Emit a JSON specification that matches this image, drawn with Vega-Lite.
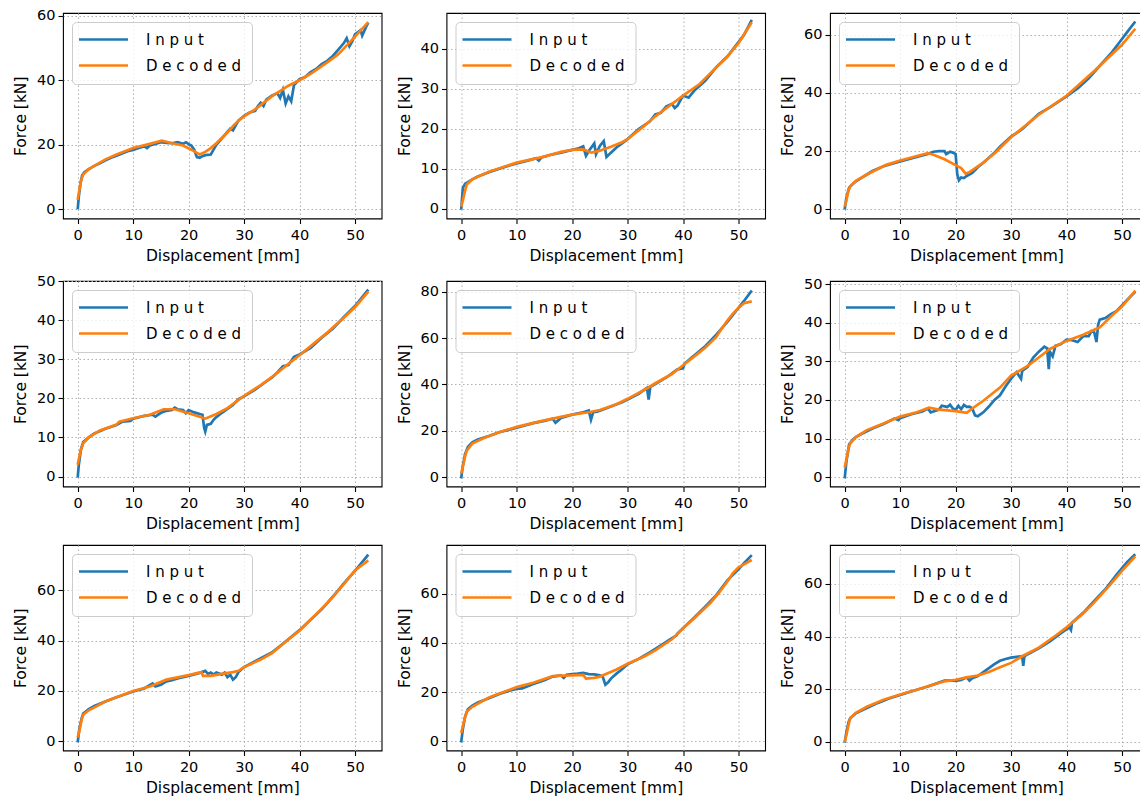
{
"$schema":"https://vega.github.io/schema/vega-lite/v6.json",
"background":"white",
"padding":{"left":12,"top":7,"right":0,"bottom":0},
"data":{"values":[
{"p":1,"s":"Input","x":0,"y":0},{"p":1,"s":"Input","x":0.2,"y":4},{"p":1,"s":"Input","x":0.5,"y":8},{"p":1,"s":"Input","x":0.8,"y":10.5},{"p":1,"s":"Input","x":1.2,"y":11.5},{"p":1,"s":"Input","x":2,"y":12.5},{"p":1,"s":"Input","x":3,"y":13.5},{"p":1,"s":"Input","x":4,"y":14.3},{"p":1,"s":"Input","x":5,"y":15.2},{"p":1,"s":"Input","x":6,"y":16},{"p":1,"s":"Input","x":7,"y":16.6},{"p":1,"s":"Input","x":8,"y":17.3},{"p":1,"s":"Input","x":9,"y":18},{"p":1,"s":"Input","x":10,"y":18.4},{"p":1,"s":"Input","x":11,"y":19},{"p":1,"s":"Input","x":12,"y":19.5},{"p":1,"s":"Input","x":12.5,"y":19},{"p":1,"s":"Input","x":13,"y":19.8},{"p":1,"s":"Input","x":14,"y":20.3},{"p":1,"s":"Input","x":15,"y":20.8},{"p":1,"s":"Input","x":16,"y":20.6},{"p":1,"s":"Input","x":17,"y":20.5},{"p":1,"s":"Input","x":18,"y":20.8},{"p":1,"s":"Input","x":19,"y":20.3},{"p":1,"s":"Input","x":19.5,"y":20.8},{"p":1,"s":"Input","x":20,"y":20.2},{"p":1,"s":"Input","x":20.5,"y":19.8},{"p":1,"s":"Input","x":21,"y":18.5},{"p":1,"s":"Input","x":21.5,"y":16.2},{"p":1,"s":"Input","x":22,"y":16},{"p":1,"s":"Input","x":22.5,"y":16.5},{"p":1,"s":"Input","x":23,"y":16.8},{"p":1,"s":"Input","x":24,"y":17},{"p":1,"s":"Input","x":24.5,"y":18.5},{"p":1,"s":"Input","x":25,"y":20},{"p":1,"s":"Input","x":26,"y":22},{"p":1,"s":"Input","x":27,"y":24},{"p":1,"s":"Input","x":27.5,"y":25},{"p":1,"s":"Input","x":28,"y":24.5},{"p":1,"s":"Input","x":28.5,"y":26},{"p":1,"s":"Input","x":29,"y":27.5},{"p":1,"s":"Input","x":30,"y":29},{"p":1,"s":"Input","x":31,"y":30},{"p":1,"s":"Input","x":32,"y":30.5},{"p":1,"s":"Input","x":32.5,"y":32},{"p":1,"s":"Input","x":33,"y":33},{"p":1,"s":"Input","x":33.5,"y":32},{"p":1,"s":"Input","x":34,"y":34},{"p":1,"s":"Input","x":35,"y":35.2},{"p":1,"s":"Input","x":36,"y":36},{"p":1,"s":"Input","x":36.5,"y":34.5},{"p":1,"s":"Input","x":37,"y":37},{"p":1,"s":"Input","x":37.5,"y":32.8},{"p":1,"s":"Input","x":38,"y":35},{"p":1,"s":"Input","x":38.5,"y":33.5},{"p":1,"s":"Input","x":39,"y":38.5},{"p":1,"s":"Input","x":40,"y":40.3},{"p":1,"s":"Input","x":41,"y":41},{"p":1,"s":"Input","x":42,"y":42.5},{"p":1,"s":"Input","x":43,"y":43.5},{"p":1,"s":"Input","x":44,"y":45},{"p":1,"s":"Input","x":45,"y":46},{"p":1,"s":"Input","x":46,"y":47.5},{"p":1,"s":"Input","x":47,"y":49.5},{"p":1,"s":"Input","x":48,"y":51.5},{"p":1,"s":"Input","x":48.5,"y":53},{"p":1,"s":"Input","x":49,"y":50.5},{"p":1,"s":"Input","x":49.5,"y":52},{"p":1,"s":"Input","x":50,"y":54.2},{"p":1,"s":"Input","x":51,"y":55.5},{"p":1,"s":"Input","x":51.3,"y":53.8},{"p":1,"s":"Input","x":52,"y":56.5},{"p":1,"s":"Input","x":52.4,"y":57.8},
{"p":1,"s":"Decoded","x":0,"y":3},{"p":1,"s":"Decoded","x":0.3,"y":6},{"p":1,"s":"Decoded","x":0.6,"y":9},{"p":1,"s":"Decoded","x":1,"y":10.8},{"p":1,"s":"Decoded","x":2,"y":12.5},{"p":1,"s":"Decoded","x":3,"y":13.5},{"p":1,"s":"Decoded","x":5,"y":15.5},{"p":1,"s":"Decoded","x":7,"y":17},{"p":1,"s":"Decoded","x":10,"y":19},{"p":1,"s":"Decoded","x":13,"y":20.3},{"p":1,"s":"Decoded","x":15.2,"y":21.3},{"p":1,"s":"Decoded","x":17,"y":20.5},{"p":1,"s":"Decoded","x":19,"y":19.8},{"p":1,"s":"Decoded","x":20.5,"y":18.5},{"p":1,"s":"Decoded","x":21.5,"y":17.5},{"p":1,"s":"Decoded","x":22,"y":17},{"p":1,"s":"Decoded","x":23,"y":17.8},{"p":1,"s":"Decoded","x":24,"y":19},{"p":1,"s":"Decoded","x":25,"y":20.5},{"p":1,"s":"Decoded","x":27,"y":23.8},{"p":1,"s":"Decoded","x":28,"y":25.8},{"p":1,"s":"Decoded","x":29,"y":27.5},{"p":1,"s":"Decoded","x":30,"y":28.8},{"p":1,"s":"Decoded","x":32,"y":31},{"p":1,"s":"Decoded","x":35,"y":35},{"p":1,"s":"Decoded","x":38,"y":38.3},{"p":1,"s":"Decoded","x":40,"y":40},{"p":1,"s":"Decoded","x":42,"y":42},{"p":1,"s":"Decoded","x":45,"y":45.5},{"p":1,"s":"Decoded","x":47,"y":48},{"p":1,"s":"Decoded","x":50,"y":53.5},{"p":1,"s":"Decoded","x":52.4,"y":58},
{"p":2,"s":"Input","x":0,"y":-0.3},{"p":2,"s":"Input","x":0.3,"y":5.2},{"p":2,"s":"Input","x":0.7,"y":6.2},{"p":2,"s":"Input","x":1.2,"y":6.6},{"p":2,"s":"Input","x":2,"y":7.3},{"p":2,"s":"Input","x":3,"y":8},{"p":2,"s":"Input","x":5,"y":9.1},{"p":2,"s":"Input","x":8,"y":10.5},{"p":2,"s":"Input","x":10,"y":11.3},{"p":2,"s":"Input","x":12,"y":12},{"p":2,"s":"Input","x":13.5,"y":12.6},{"p":2,"s":"Input","x":14,"y":12},{"p":2,"s":"Input","x":14.5,"y":12.8},{"p":2,"s":"Input","x":16,"y":13.4},{"p":2,"s":"Input","x":18,"y":14},{"p":2,"s":"Input","x":20,"y":14.7},{"p":2,"s":"Input","x":21,"y":15},{"p":2,"s":"Input","x":22,"y":15.6},{"p":2,"s":"Input","x":22.5,"y":13.2},{"p":2,"s":"Input","x":23,"y":14.4},{"p":2,"s":"Input","x":24,"y":16.3},{"p":2,"s":"Input","x":24.3,"y":13.6},{"p":2,"s":"Input","x":25,"y":15.7},{"p":2,"s":"Input","x":25.7,"y":16.9},{"p":2,"s":"Input","x":26.2,"y":12.9},{"p":2,"s":"Input","x":27,"y":14},{"p":2,"s":"Input","x":28,"y":15.3},{"p":2,"s":"Input","x":29,"y":16.3},{"p":2,"s":"Input","x":30,"y":17.4},{"p":2,"s":"Input","x":32,"y":19.9},{"p":2,"s":"Input","x":34,"y":21.8},{"p":2,"s":"Input","x":35,"y":23.6},{"p":2,"s":"Input","x":36,"y":24},{"p":2,"s":"Input","x":37,"y":25.6},{"p":2,"s":"Input","x":38,"y":26.2},{"p":2,"s":"Input","x":38.5,"y":25.2},{"p":2,"s":"Input","x":39,"y":25.8},{"p":2,"s":"Input","x":40,"y":28.3},{"p":2,"s":"Input","x":41,"y":27.8},{"p":2,"s":"Input","x":42,"y":29.5},{"p":2,"s":"Input","x":44,"y":32},{"p":2,"s":"Input","x":46,"y":35.4},{"p":2,"s":"Input","x":48,"y":38.1},{"p":2,"s":"Input","x":50,"y":41.7},{"p":2,"s":"Input","x":51,"y":43.5},{"p":2,"s":"Input","x":52.4,"y":47.3},
{"p":2,"s":"Decoded","x":0,"y":0.5},{"p":2,"s":"Decoded","x":0.3,"y":2},{"p":2,"s":"Decoded","x":0.7,"y":4.5},{"p":2,"s":"Decoded","x":1,"y":6},{"p":2,"s":"Decoded","x":2,"y":7.3},{"p":2,"s":"Decoded","x":5,"y":9.2},{"p":2,"s":"Decoded","x":10,"y":11.5},{"p":2,"s":"Decoded","x":15,"y":13},{"p":2,"s":"Decoded","x":18,"y":14.2},{"p":2,"s":"Decoded","x":20,"y":14.7},{"p":2,"s":"Decoded","x":22,"y":14.8},{"p":2,"s":"Decoded","x":23.5,"y":14},{"p":2,"s":"Decoded","x":25,"y":14.5},{"p":2,"s":"Decoded","x":27,"y":15.5},{"p":2,"s":"Decoded","x":29,"y":16.6},{"p":2,"s":"Decoded","x":30,"y":17.4},{"p":2,"s":"Decoded","x":33,"y":20.7},{"p":2,"s":"Decoded","x":35,"y":23.1},{"p":2,"s":"Decoded","x":38,"y":26.2},{"p":2,"s":"Decoded","x":40,"y":28.3},{"p":2,"s":"Decoded","x":43,"y":31.2},{"p":2,"s":"Decoded","x":45,"y":34},{"p":2,"s":"Decoded","x":48,"y":38.1},{"p":2,"s":"Decoded","x":50,"y":41.4},{"p":2,"s":"Decoded","x":52.4,"y":46.7},
{"p":3,"s":"Input","x":0,"y":0},{"p":3,"s":"Input","x":0.3,"y":4},{"p":3,"s":"Input","x":0.8,"y":7.5},{"p":3,"s":"Input","x":1.5,"y":8.8},{"p":3,"s":"Input","x":2,"y":9.6},{"p":3,"s":"Input","x":4,"y":12},{"p":3,"s":"Input","x":5,"y":13.2},{"p":3,"s":"Input","x":7,"y":14.8},{"p":3,"s":"Input","x":10,"y":16.5},{"p":3,"s":"Input","x":12,"y":17.5},{"p":3,"s":"Input","x":15,"y":19},{"p":3,"s":"Input","x":16,"y":19.8},{"p":3,"s":"Input","x":17,"y":20},{"p":3,"s":"Input","x":18,"y":20},{"p":3,"s":"Input","x":18.3,"y":19},{"p":3,"s":"Input","x":19,"y":19.8},{"p":3,"s":"Input","x":19.5,"y":19.5},{"p":3,"s":"Input","x":20,"y":19},{"p":3,"s":"Input","x":20.3,"y":12},{"p":3,"s":"Input","x":20.6,"y":10},{"p":3,"s":"Input","x":21,"y":11},{"p":3,"s":"Input","x":21.5,"y":10.8},{"p":3,"s":"Input","x":22,"y":11.5},{"p":3,"s":"Input","x":23,"y":12.5},{"p":3,"s":"Input","x":24,"y":14.5},{"p":3,"s":"Input","x":25,"y":16},{"p":3,"s":"Input","x":27,"y":19.5},{"p":3,"s":"Input","x":28,"y":21.5},{"p":3,"s":"Input","x":30,"y":25},{"p":3,"s":"Input","x":32,"y":27.5},{"p":3,"s":"Input","x":35,"y":32.8},{"p":3,"s":"Input","x":37,"y":35},{"p":3,"s":"Input","x":40,"y":38.8},{"p":3,"s":"Input","x":42,"y":41.5},{"p":3,"s":"Input","x":44,"y":45},{"p":3,"s":"Input","x":46,"y":49.3},{"p":3,"s":"Input","x":48,"y":53.5},{"p":3,"s":"Input","x":50,"y":58.5},{"p":3,"s":"Input","x":51,"y":61},{"p":3,"s":"Input","x":52.4,"y":64.5},
{"p":3,"s":"Decoded","x":0,"y":1},{"p":3,"s":"Decoded","x":0.3,"y":3},{"p":3,"s":"Decoded","x":0.6,"y":6},{"p":3,"s":"Decoded","x":1,"y":8},{"p":3,"s":"Decoded","x":2,"y":9.8},{"p":3,"s":"Decoded","x":4,"y":12},{"p":3,"s":"Decoded","x":7.5,"y":15.3},{"p":3,"s":"Decoded","x":10,"y":16.8},{"p":3,"s":"Decoded","x":15,"y":19.3},{"p":3,"s":"Decoded","x":16,"y":18.8},{"p":3,"s":"Decoded","x":18,"y":17.2},{"p":3,"s":"Decoded","x":20,"y":15.2},{"p":3,"s":"Decoded","x":21,"y":14.2},{"p":3,"s":"Decoded","x":21.8,"y":12.3},{"p":3,"s":"Decoded","x":22.5,"y":12.8},{"p":3,"s":"Decoded","x":24,"y":14.8},{"p":3,"s":"Decoded","x":25,"y":16.1},{"p":3,"s":"Decoded","x":27,"y":19.2},{"p":3,"s":"Decoded","x":30,"y":24.8},{"p":3,"s":"Decoded","x":35,"y":32.5},{"p":3,"s":"Decoded","x":40,"y":39},{"p":3,"s":"Decoded","x":45,"y":47.5},{"p":3,"s":"Decoded","x":50,"y":56.5},{"p":3,"s":"Decoded","x":52.4,"y":62},
{"p":4,"s":"Input","x":0,"y":-0.3},{"p":4,"s":"Input","x":0.2,"y":3},{"p":4,"s":"Input","x":0.6,"y":7},{"p":4,"s":"Input","x":1,"y":8.8},{"p":4,"s":"Input","x":2,"y":10},{"p":4,"s":"Input","x":3,"y":11},{"p":4,"s":"Input","x":5,"y":12.2},{"p":4,"s":"Input","x":7,"y":13.2},{"p":4,"s":"Input","x":8,"y":14},{"p":4,"s":"Input","x":9.5,"y":14.2},{"p":4,"s":"Input","x":10,"y":14.8},{"p":4,"s":"Input","x":12,"y":15.5},{"p":4,"s":"Input","x":13.5,"y":15.8},{"p":4,"s":"Input","x":14,"y":15.3},{"p":4,"s":"Input","x":15,"y":16.3},{"p":4,"s":"Input","x":16,"y":16.8},{"p":4,"s":"Input","x":17,"y":17},{"p":4,"s":"Input","x":17.5,"y":17.6},{"p":4,"s":"Input","x":18,"y":17.2},{"p":4,"s":"Input","x":19,"y":17},{"p":4,"s":"Input","x":19.5,"y":16.2},{"p":4,"s":"Input","x":20,"y":17},{"p":4,"s":"Input","x":21,"y":16.4},{"p":4,"s":"Input","x":22,"y":16},{"p":4,"s":"Input","x":22.5,"y":15.8},{"p":4,"s":"Input","x":22.8,"y":12.5},{"p":4,"s":"Input","x":23,"y":11.5},{"p":4,"s":"Input","x":23.3,"y":13.2},{"p":4,"s":"Input","x":24,"y":13.5},{"p":4,"s":"Input","x":24.5,"y":14.5},{"p":4,"s":"Input","x":25,"y":15.2},{"p":4,"s":"Input","x":26,"y":16.3},{"p":4,"s":"Input","x":27,"y":17.3},{"p":4,"s":"Input","x":28,"y":18.3},{"p":4,"s":"Input","x":29,"y":19.8},{"p":4,"s":"Input","x":30,"y":20.5},{"p":4,"s":"Input","x":32,"y":22.2},{"p":4,"s":"Input","x":34,"y":24.3},{"p":4,"s":"Input","x":35,"y":25.3},{"p":4,"s":"Input","x":36,"y":26.6},{"p":4,"s":"Input","x":37,"y":28.2},{"p":4,"s":"Input","x":38,"y":28.5},{"p":4,"s":"Input","x":39,"y":30.6},{"p":4,"s":"Input","x":40,"y":31.2},{"p":4,"s":"Input","x":42,"y":32.9},{"p":4,"s":"Input","x":44,"y":35.5},{"p":4,"s":"Input","x":46,"y":37.8},{"p":4,"s":"Input","x":48,"y":40.8},{"p":4,"s":"Input","x":50,"y":43.6},{"p":4,"s":"Input","x":52.4,"y":47.8},
{"p":4,"s":"Decoded","x":0,"y":3},{"p":4,"s":"Decoded","x":0.5,"y":6.5},{"p":4,"s":"Decoded","x":1,"y":8.5},{"p":4,"s":"Decoded","x":2,"y":10},{"p":4,"s":"Decoded","x":4,"y":11.8},{"p":4,"s":"Decoded","x":7,"y":13.3},{"p":4,"s":"Decoded","x":7.5,"y":14},{"p":4,"s":"Decoded","x":10,"y":14.9},{"p":4,"s":"Decoded","x":13,"y":15.8},{"p":4,"s":"Decoded","x":15.5,"y":17.2},{"p":4,"s":"Decoded","x":17.5,"y":17.2},{"p":4,"s":"Decoded","x":20,"y":16.2},{"p":4,"s":"Decoded","x":22,"y":15.3},{"p":4,"s":"Decoded","x":23,"y":14.8},{"p":4,"s":"Decoded","x":25,"y":16},{"p":4,"s":"Decoded","x":27,"y":17.5},{"p":4,"s":"Decoded","x":30,"y":20.6},{"p":4,"s":"Decoded","x":33,"y":23.4},{"p":4,"s":"Decoded","x":35,"y":25.4},{"p":4,"s":"Decoded","x":38,"y":28.8},{"p":4,"s":"Decoded","x":40,"y":31},{"p":4,"s":"Decoded","x":43,"y":34.5},{"p":4,"s":"Decoded","x":45,"y":36.8},{"p":4,"s":"Decoded","x":48,"y":40.6},{"p":4,"s":"Decoded","x":50,"y":43.3},{"p":4,"s":"Decoded","x":52.4,"y":47.3},
{"p":5,"s":"Input","x":0,"y":-0.5},{"p":5,"s":"Input","x":0.3,"y":5},{"p":5,"s":"Input","x":0.7,"y":10},{"p":5,"s":"Input","x":1.2,"y":13},{"p":5,"s":"Input","x":2,"y":15},{"p":5,"s":"Input","x":3,"y":16.3},{"p":5,"s":"Input","x":5,"y":17.8},{"p":5,"s":"Input","x":7,"y":19.5},{"p":5,"s":"Input","x":10,"y":21.3},{"p":5,"s":"Input","x":13,"y":23.3},{"p":5,"s":"Input","x":15,"y":24.3},{"p":5,"s":"Input","x":16.5,"y":25.2},{"p":5,"s":"Input","x":17,"y":23.5},{"p":5,"s":"Input","x":17.5,"y":24.5},{"p":5,"s":"Input","x":18,"y":25.5},{"p":5,"s":"Input","x":20,"y":27},{"p":5,"s":"Input","x":22,"y":28},{"p":5,"s":"Input","x":23,"y":28.8},{"p":5,"s":"Input","x":23.4,"y":24.8},{"p":5,"s":"Input","x":23.8,"y":28},{"p":5,"s":"Input","x":24.5,"y":28.3},{"p":5,"s":"Input","x":25,"y":28.7},{"p":5,"s":"Input","x":27,"y":30.5},{"p":5,"s":"Input","x":29,"y":32.3},{"p":5,"s":"Input","x":30,"y":33.5},{"p":5,"s":"Input","x":32,"y":36},{"p":5,"s":"Input","x":33.5,"y":38.5},{"p":5,"s":"Input","x":33.8,"y":33.5},{"p":5,"s":"Input","x":34.1,"y":39},{"p":5,"s":"Input","x":35,"y":40.2},{"p":5,"s":"Input","x":37,"y":43},{"p":5,"s":"Input","x":39,"y":46.5},{"p":5,"s":"Input","x":40,"y":47},{"p":5,"s":"Input","x":40.3,"y":49},{"p":5,"s":"Input","x":42,"y":52.5},{"p":5,"s":"Input","x":44,"y":56.5},{"p":5,"s":"Input","x":46,"y":61.5},{"p":5,"s":"Input","x":48,"y":67},{"p":5,"s":"Input","x":50,"y":73},{"p":5,"s":"Input","x":51,"y":76},{"p":5,"s":"Input","x":52.4,"y":80.5},
{"p":5,"s":"Decoded","x":0,"y":1.5},{"p":5,"s":"Decoded","x":0.3,"y":4.5},{"p":5,"s":"Decoded","x":0.7,"y":9},{"p":5,"s":"Decoded","x":1,"y":11.5},{"p":5,"s":"Decoded","x":2,"y":14.5},{"p":5,"s":"Decoded","x":4,"y":16.8},{"p":5,"s":"Decoded","x":7,"y":19.5},{"p":5,"s":"Decoded","x":10,"y":21.7},{"p":5,"s":"Decoded","x":15,"y":24.5},{"p":5,"s":"Decoded","x":18,"y":26},{"p":5,"s":"Decoded","x":20,"y":27},{"p":5,"s":"Decoded","x":23,"y":28},{"p":5,"s":"Decoded","x":25,"y":29},{"p":5,"s":"Decoded","x":28,"y":31.5},{"p":5,"s":"Decoded","x":30,"y":33.8},{"p":5,"s":"Decoded","x":33,"y":37.6},{"p":5,"s":"Decoded","x":35,"y":40.5},{"p":5,"s":"Decoded","x":38,"y":44.5},{"p":5,"s":"Decoded","x":40,"y":48.3},{"p":5,"s":"Decoded","x":42,"y":52},{"p":5,"s":"Decoded","x":44,"y":55.8},{"p":5,"s":"Decoded","x":46,"y":60.5},{"p":5,"s":"Decoded","x":46.8,"y":63.5},{"p":5,"s":"Decoded","x":48,"y":67.5},{"p":5,"s":"Decoded","x":49,"y":70.5},{"p":5,"s":"Decoded","x":50,"y":73},{"p":5,"s":"Decoded","x":51,"y":75},{"p":5,"s":"Decoded","x":52.4,"y":75.8},
{"p":6,"s":"Input","x":0,"y":-0.3},{"p":6,"s":"Input","x":0.3,"y":4},{"p":6,"s":"Input","x":0.8,"y":8.5},{"p":6,"s":"Input","x":1.5,"y":9.8},{"p":6,"s":"Input","x":2,"y":10.4},{"p":6,"s":"Input","x":3,"y":11.2},{"p":6,"s":"Input","x":5,"y":12.6},{"p":6,"s":"Input","x":7,"y":13.8},{"p":6,"s":"Input","x":9,"y":15.2},{"p":6,"s":"Input","x":9.7,"y":14.8},{"p":6,"s":"Input","x":10,"y":15.3},{"p":6,"s":"Input","x":12,"y":16.3},{"p":6,"s":"Input","x":14,"y":17},{"p":6,"s":"Input","x":15,"y":17.8},{"p":6,"s":"Input","x":15.5,"y":16.8},{"p":6,"s":"Input","x":16,"y":17},{"p":6,"s":"Input","x":17,"y":17.5},{"p":6,"s":"Input","x":17.5,"y":18.5},{"p":6,"s":"Input","x":18.5,"y":18.2},{"p":6,"s":"Input","x":19,"y":18.8},{"p":6,"s":"Input","x":19.5,"y":17.8},{"p":6,"s":"Input","x":20,"y":17.4},{"p":6,"s":"Input","x":20.5,"y":18.5},{"p":6,"s":"Input","x":21,"y":17.6},{"p":6,"s":"Input","x":21.5,"y":18.7},{"p":6,"s":"Input","x":22,"y":18.2},{"p":6,"s":"Input","x":22.5,"y":18.3},{"p":6,"s":"Input","x":23,"y":17.8},{"p":6,"s":"Input","x":23.5,"y":16},{"p":6,"s":"Input","x":24,"y":15.8},{"p":6,"s":"Input","x":25,"y":16.8},{"p":6,"s":"Input","x":26,"y":18.3},{"p":6,"s":"Input","x":27,"y":20},{"p":6,"s":"Input","x":28,"y":21.2},{"p":6,"s":"Input","x":29,"y":23.5},{"p":6,"s":"Input","x":30,"y":25.5},{"p":6,"s":"Input","x":31,"y":27.2},{"p":6,"s":"Input","x":31.8,"y":25.5},{"p":6,"s":"Input","x":32,"y":27.5},{"p":6,"s":"Input","x":33,"y":28.6},{"p":6,"s":"Input","x":34,"y":31},{"p":6,"s":"Input","x":35,"y":32.5},{"p":6,"s":"Input","x":36,"y":33.8},{"p":6,"s":"Input","x":36.5,"y":33.4},{"p":6,"s":"Input","x":36.8,"y":28},{"p":6,"s":"Input","x":37,"y":32.5},{"p":6,"s":"Input","x":37.5,"y":31.3},{"p":6,"s":"Input","x":38,"y":34},{"p":6,"s":"Input","x":39,"y":34.5},{"p":6,"s":"Input","x":40,"y":35.6},{"p":6,"s":"Input","x":41,"y":35.5},{"p":6,"s":"Input","x":42,"y":35},{"p":6,"s":"Input","x":43,"y":36.5},{"p":6,"s":"Input","x":44,"y":36.5},{"p":6,"s":"Input","x":44.5,"y":37.8},{"p":6,"s":"Input","x":45,"y":37.5},{"p":6,"s":"Input","x":45.4,"y":35},{"p":6,"s":"Input","x":45.7,"y":39.5},{"p":6,"s":"Input","x":46,"y":40.8},{"p":6,"s":"Input","x":47,"y":41.2},{"p":6,"s":"Input","x":48,"y":42.2},{"p":6,"s":"Input","x":49,"y":43},{"p":6,"s":"Input","x":50,"y":44.5},{"p":6,"s":"Input","x":51,"y":46},{"p":6,"s":"Input","x":52.4,"y":48},
{"p":6,"s":"Decoded","x":0,"y":2.5},{"p":6,"s":"Decoded","x":0.3,"y":4.5},{"p":6,"s":"Decoded","x":0.7,"y":7.5},{"p":6,"s":"Decoded","x":1,"y":8.8},{"p":6,"s":"Decoded","x":2,"y":10.4},{"p":6,"s":"Decoded","x":4,"y":12.2},{"p":6,"s":"Decoded","x":7,"y":13.9},{"p":6,"s":"Decoded","x":10,"y":15.7},{"p":6,"s":"Decoded","x":13,"y":16.8},{"p":6,"s":"Decoded","x":15.2,"y":18},{"p":6,"s":"Decoded","x":17,"y":17.5},{"p":6,"s":"Decoded","x":20,"y":17.1},{"p":6,"s":"Decoded","x":22,"y":16.7},{"p":6,"s":"Decoded","x":23,"y":17.8},{"p":6,"s":"Decoded","x":25,"y":19.8},{"p":6,"s":"Decoded","x":28,"y":23.2},{"p":6,"s":"Decoded","x":30,"y":26.3},{"p":6,"s":"Decoded","x":33,"y":28.8},{"p":6,"s":"Decoded","x":35,"y":31},{"p":6,"s":"Decoded","x":37,"y":33.2},{"p":6,"s":"Decoded","x":40,"y":35.3},{"p":6,"s":"Decoded","x":43,"y":36.9},{"p":6,"s":"Decoded","x":46,"y":38.8},{"p":6,"s":"Decoded","x":48,"y":41.6},{"p":6,"s":"Decoded","x":50,"y":44.2},{"p":6,"s":"Decoded","x":52.4,"y":48.3},
{"p":7,"s":"Input","x":0,"y":-0.5},{"p":7,"s":"Input","x":0.3,"y":5},{"p":7,"s":"Input","x":0.7,"y":9},{"p":7,"s":"Input","x":1,"y":11},{"p":7,"s":"Input","x":2,"y":12.8},{"p":7,"s":"Input","x":3,"y":14},{"p":7,"s":"Input","x":5,"y":15.8},{"p":7,"s":"Input","x":7,"y":17.5},{"p":7,"s":"Input","x":10,"y":19.8},{"p":7,"s":"Input","x":12,"y":21},{"p":7,"s":"Input","x":13.5,"y":23},{"p":7,"s":"Input","x":14,"y":21.8},{"p":7,"s":"Input","x":15,"y":22.5},{"p":7,"s":"Input","x":16,"y":23.8},{"p":7,"s":"Input","x":17,"y":24.3},{"p":7,"s":"Input","x":18,"y":25},{"p":7,"s":"Input","x":20,"y":26},{"p":7,"s":"Input","x":22,"y":27.2},{"p":7,"s":"Input","x":23,"y":28},{"p":7,"s":"Input","x":23.5,"y":26.8},{"p":7,"s":"Input","x":24,"y":27.3},{"p":7,"s":"Input","x":24.5,"y":26.5},{"p":7,"s":"Input","x":25,"y":27.3},{"p":7,"s":"Input","x":26,"y":26.5},{"p":7,"s":"Input","x":26.5,"y":27.3},{"p":7,"s":"Input","x":27,"y":25.5},{"p":7,"s":"Input","x":27.5,"y":26.5},{"p":7,"s":"Input","x":28,"y":24.5},{"p":7,"s":"Input","x":28.5,"y":25.5},{"p":7,"s":"Input","x":29,"y":27.5},{"p":7,"s":"Input","x":30,"y":29.5},{"p":7,"s":"Input","x":32,"y":31.8},{"p":7,"s":"Input","x":35,"y":35.3},{"p":7,"s":"Input","x":37,"y":38.8},{"p":7,"s":"Input","x":40,"y":44.2},{"p":7,"s":"Input","x":42,"y":48.3},{"p":7,"s":"Input","x":44,"y":52.5},{"p":7,"s":"Input","x":46,"y":57.5},{"p":7,"s":"Input","x":48,"y":62.8},{"p":7,"s":"Input","x":50,"y":67.8},{"p":7,"s":"Input","x":51,"y":70.5},{"p":7,"s":"Input","x":52.4,"y":74.3},
{"p":7,"s":"Decoded","x":0,"y":1.5},{"p":7,"s":"Decoded","x":0.3,"y":4},{"p":7,"s":"Decoded","x":0.7,"y":8.5},{"p":7,"s":"Decoded","x":1,"y":10.5},{"p":7,"s":"Decoded","x":2,"y":12.3},{"p":7,"s":"Decoded","x":5,"y":15.8},{"p":7,"s":"Decoded","x":7,"y":17.5},{"p":7,"s":"Decoded","x":10,"y":20},{"p":7,"s":"Decoded","x":13,"y":21.8},{"p":7,"s":"Decoded","x":16,"y":24.5},{"p":7,"s":"Decoded","x":20,"y":26.3},{"p":7,"s":"Decoded","x":22.3,"y":27.5},{"p":7,"s":"Decoded","x":22.6,"y":26},{"p":7,"s":"Decoded","x":24,"y":26},{"p":7,"s":"Decoded","x":26,"y":26.8},{"p":7,"s":"Decoded","x":28,"y":27.5},{"p":7,"s":"Decoded","x":29,"y":28},{"p":7,"s":"Decoded","x":30,"y":29.5},{"p":7,"s":"Decoded","x":33,"y":32.5},{"p":7,"s":"Decoded","x":35,"y":35},{"p":7,"s":"Decoded","x":38,"y":40.5},{"p":7,"s":"Decoded","x":40,"y":44},{"p":7,"s":"Decoded","x":43,"y":50.5},{"p":7,"s":"Decoded","x":45,"y":55},{"p":7,"s":"Decoded","x":48,"y":62.5},{"p":7,"s":"Decoded","x":50,"y":68},{"p":7,"s":"Decoded","x":52.4,"y":72},
{"p":8,"s":"Input","x":0,"y":-0.5},{"p":8,"s":"Input","x":0.3,"y":5},{"p":8,"s":"Input","x":0.7,"y":10},{"p":8,"s":"Input","x":1.2,"y":13},{"p":8,"s":"Input","x":2,"y":14.5},{"p":8,"s":"Input","x":3,"y":15.8},{"p":8,"s":"Input","x":5,"y":17.5},{"p":8,"s":"Input","x":7,"y":19.3},{"p":8,"s":"Input","x":9,"y":20.8},{"p":8,"s":"Input","x":10,"y":21.3},{"p":8,"s":"Input","x":11,"y":21.5},{"p":8,"s":"Input","x":13,"y":23.3},{"p":8,"s":"Input","x":15,"y":24.8},{"p":8,"s":"Input","x":16.5,"y":26.3},{"p":8,"s":"Input","x":18,"y":26.8},{"p":8,"s":"Input","x":18.5,"y":25.8},{"p":8,"s":"Input","x":19,"y":27},{"p":8,"s":"Input","x":20,"y":27.3},{"p":8,"s":"Input","x":21,"y":27.5},{"p":8,"s":"Input","x":22,"y":27.8},{"p":8,"s":"Input","x":23,"y":27.3},{"p":8,"s":"Input","x":24,"y":27.2},{"p":8,"s":"Input","x":25,"y":26.8},{"p":8,"s":"Input","x":25.5,"y":26.3},{"p":8,"s":"Input","x":26,"y":23},{"p":8,"s":"Input","x":26.5,"y":24},{"p":8,"s":"Input","x":27,"y":25.5},{"p":8,"s":"Input","x":28,"y":27.5},{"p":8,"s":"Input","x":29,"y":29.3},{"p":8,"s":"Input","x":30,"y":31.3},{"p":8,"s":"Input","x":32,"y":33.5},{"p":8,"s":"Input","x":34,"y":36.2},{"p":8,"s":"Input","x":36,"y":39},{"p":8,"s":"Input","x":38,"y":42},{"p":8,"s":"Input","x":38.8,"y":43},{"p":8,"s":"Input","x":39,"y":43.8},{"p":8,"s":"Input","x":40,"y":46},{"p":8,"s":"Input","x":42,"y":50.3},{"p":8,"s":"Input","x":44,"y":54.8},{"p":8,"s":"Input","x":46,"y":59.5},{"p":8,"s":"Input","x":48,"y":65.5},{"p":8,"s":"Input","x":50,"y":70},{"p":8,"s":"Input","x":51,"y":72.5},{"p":8,"s":"Input","x":52.4,"y":75.8},
{"p":8,"s":"Decoded","x":0,"y":3.3},{"p":8,"s":"Decoded","x":0.5,"y":8},{"p":8,"s":"Decoded","x":1,"y":12},{"p":8,"s":"Decoded","x":2,"y":14},{"p":8,"s":"Decoded","x":5,"y":17.8},{"p":8,"s":"Decoded","x":7,"y":19.5},{"p":8,"s":"Decoded","x":10,"y":22},{"p":8,"s":"Decoded","x":13,"y":23.8},{"p":8,"s":"Decoded","x":16.5,"y":26.5},{"p":8,"s":"Decoded","x":18,"y":26.7},{"p":8,"s":"Decoded","x":20,"y":26.8},{"p":8,"s":"Decoded","x":22,"y":27},{"p":8,"s":"Decoded","x":22.5,"y":25.5},{"p":8,"s":"Decoded","x":24,"y":25.8},{"p":8,"s":"Decoded","x":25,"y":26.3},{"p":8,"s":"Decoded","x":26,"y":27.3},{"p":8,"s":"Decoded","x":28,"y":29.2},{"p":8,"s":"Decoded","x":30,"y":31.5},{"p":8,"s":"Decoded","x":33,"y":34.5},{"p":8,"s":"Decoded","x":35,"y":37},{"p":8,"s":"Decoded","x":38,"y":41.5},{"p":8,"s":"Decoded","x":40,"y":46},{"p":8,"s":"Decoded","x":42,"y":50},{"p":8,"s":"Decoded","x":45,"y":56.5},{"p":8,"s":"Decoded","x":46.5,"y":60.5},{"p":8,"s":"Decoded","x":48,"y":65},{"p":8,"s":"Decoded","x":49,"y":68.5},{"p":8,"s":"Decoded","x":50,"y":70.8},{"p":8,"s":"Decoded","x":51,"y":72},{"p":8,"s":"Decoded","x":52.4,"y":73.8},
{"p":9,"s":"Input","x":0,"y":-0.3},{"p":9,"s":"Input","x":0.3,"y":3.5},{"p":9,"s":"Input","x":0.7,"y":7.5},{"p":9,"s":"Input","x":1,"y":9},{"p":9,"s":"Input","x":2,"y":10.8},{"p":9,"s":"Input","x":4,"y":12.8},{"p":9,"s":"Input","x":6,"y":14.8},{"p":9,"s":"Input","x":8,"y":16.5},{"p":9,"s":"Input","x":10,"y":17.8},{"p":9,"s":"Input","x":11,"y":18.5},{"p":9,"s":"Input","x":13,"y":19.8},{"p":9,"s":"Input","x":15,"y":21},{"p":9,"s":"Input","x":17,"y":22.5},{"p":9,"s":"Input","x":18,"y":23.3},{"p":9,"s":"Input","x":19,"y":23.3},{"p":9,"s":"Input","x":20,"y":23.2},{"p":9,"s":"Input","x":21,"y":23.5},{"p":9,"s":"Input","x":22,"y":24.5},{"p":9,"s":"Input","x":22.5,"y":23.3},{"p":9,"s":"Input","x":23,"y":24.2},{"p":9,"s":"Input","x":24,"y":25},{"p":9,"s":"Input","x":25,"y":26.5},{"p":9,"s":"Input","x":26,"y":28},{"p":9,"s":"Input","x":27,"y":29.5},{"p":9,"s":"Input","x":28,"y":30.8},{"p":9,"s":"Input","x":29,"y":31.5},{"p":9,"s":"Input","x":30,"y":32},{"p":9,"s":"Input","x":31,"y":32.3},{"p":9,"s":"Input","x":32,"y":32.5},{"p":9,"s":"Input","x":32.2,"y":28.9},{"p":9,"s":"Input","x":32.4,"y":32.5},{"p":9,"s":"Input","x":33,"y":33.3},{"p":9,"s":"Input","x":35,"y":35.5},{"p":9,"s":"Input","x":37,"y":38.2},{"p":9,"s":"Input","x":39,"y":41.3},{"p":9,"s":"Input","x":40.5,"y":43.5},{"p":9,"s":"Input","x":40.8,"y":42.5},{"p":9,"s":"Input","x":41,"y":45.3},{"p":9,"s":"Input","x":43,"y":49},{"p":9,"s":"Input","x":45,"y":53.5},{"p":9,"s":"Input","x":47,"y":58},{"p":9,"s":"Input","x":49,"y":63.5},{"p":9,"s":"Input","x":50,"y":66},{"p":9,"s":"Input","x":51,"y":68.5},{"p":9,"s":"Input","x":52.4,"y":71.3},
{"p":9,"s":"Decoded","x":0,"y":0},{"p":9,"s":"Decoded","x":0.3,"y":2.5},{"p":9,"s":"Decoded","x":0.7,"y":6.5},{"p":9,"s":"Decoded","x":1,"y":9},{"p":9,"s":"Decoded","x":2,"y":11},{"p":9,"s":"Decoded","x":4,"y":13.3},{"p":9,"s":"Decoded","x":7,"y":16},{"p":9,"s":"Decoded","x":10,"y":18},{"p":9,"s":"Decoded","x":13,"y":19.8},{"p":9,"s":"Decoded","x":16,"y":21.8},{"p":9,"s":"Decoded","x":18,"y":23},{"p":9,"s":"Decoded","x":20,"y":23.6},{"p":9,"s":"Decoded","x":22,"y":24.5},{"p":9,"s":"Decoded","x":24,"y":25.2},{"p":9,"s":"Decoded","x":26,"y":26.5},{"p":9,"s":"Decoded","x":28,"y":28.3},{"p":9,"s":"Decoded","x":30,"y":30},{"p":9,"s":"Decoded","x":32,"y":32.5},{"p":9,"s":"Decoded","x":35,"y":35.8},{"p":9,"s":"Decoded","x":38,"y":40.3},{"p":9,"s":"Decoded","x":40,"y":43.5},{"p":9,"s":"Decoded","x":43,"y":48.8},{"p":9,"s":"Decoded","x":45,"y":53},{"p":9,"s":"Decoded","x":48,"y":60},{"p":9,"s":"Decoded","x":50,"y":65},{"p":9,"s":"Decoded","x":52.4,"y":70.5}
]},
"spacing":7,
"resolve":{"scale":{"color":"independent"},"legend":{"color":"independent"}},
"vconcat":[
{"hconcat":[
{"width":318.6,"height":205.5,"transform":[{"filter":"datum.p==1"}],"mark":{"type":"line","clip":true},"encoding":{"x":{"field":"x","type":"quantitative","title":"Displacement [mm]","scale":{"domain":[-2.65,54.8],"nice":false,"zero":false},"axis":{"values":[0,10,20,30,40,50]}},"y":{"field":"y","type":"quantitative","title":"Force [kN]","scale":{"domain":[-2.8,60.8],"nice":false,"zero":false},"axis":{"values":[0,20,40,60]}},"color":{"field":"s","type":"nominal","scale":{"domain":["Input","Decoded"],"range":["#1f77b4","#ff7f0e"]},"legend":{"title":null,"labelExpr":"datum.label=='Input'?'I n p u t':'D e c o d e d'"}}}},
{"width":318.6,"height":205.5,"transform":[{"filter":"datum.p==2"}],"mark":{"type":"line","clip":true},"encoding":{"x":{"field":"x","type":"quantitative","title":"Displacement [mm]","scale":{"domain":[-2.65,54.8],"nice":false,"zero":false},"axis":{"values":[0,10,20,30,40,50]}},"y":{"field":"y","type":"quantitative","title":"Force [kN]","scale":{"domain":[-2.5,49.0],"nice":false,"zero":false},"axis":{"values":[0,10,20,30,40]}},"color":{"field":"s","type":"nominal","scale":{"domain":["Input","Decoded"],"range":["#1f77b4","#ff7f0e"]},"legend":{"title":null,"labelExpr":"datum.label=='Input'?'I n p u t':'D e c o d e d'"}}}},
{"width":313,"height":205.5,"transform":[{"filter":"datum.p==3"}],"mark":{"type":"line","clip":true},"encoding":{"x":{"field":"x","type":"quantitative","title":"Displacement [mm]","scale":{"domain":[-2.65,53.79],"nice":false,"zero":false},"axis":{"values":[0,10,20,30,40,50]}},"y":{"field":"y","type":"quantitative","title":"Force [kN]","scale":{"domain":[-3.1,67.4],"nice":false,"zero":false},"axis":{"values":[0,20,40,60]}},"color":{"field":"s","type":"nominal","scale":{"domain":["Input","Decoded"],"range":["#1f77b4","#ff7f0e"]},"legend":{"title":null,"labelExpr":"datum.label=='Input'?'I n p u t':'D e c o d e d'"}}}}
],"spacing":12.5,"resolve":{"scale":{"color":"independent"},"legend":{"color":"independent"}}},
{"vconcat":[
{"hconcat":[
{"width":318.6,"height":205.5,"transform":[{"filter":"datum.p==4"}],"mark":{"type":"line","clip":true},"encoding":{"x":{"field":"x","type":"quantitative","title":"Displacement [mm]","scale":{"domain":[-2.65,54.8],"nice":false,"zero":false},"axis":{"values":[0,10,20,30,40,50]}},"y":{"field":"y","type":"quantitative","title":"Force [kN]","scale":{"domain":[-2.55,50.0],"nice":false,"zero":false},"axis":{"values":[0,10,20,30,40,50]}},"color":{"field":"s","type":"nominal","scale":{"domain":["Input","Decoded"],"range":["#1f77b4","#ff7f0e"]},"legend":{"title":null,"labelExpr":"datum.label=='Input'?'I n p u t':'D e c o d e d'"}}}},
{"width":318.6,"height":205.5,"transform":[{"filter":"datum.p==5"}],"mark":{"type":"line","clip":true},"encoding":{"x":{"field":"x","type":"quantitative","title":"Displacement [mm]","scale":{"domain":[-2.65,54.8],"nice":false,"zero":false},"axis":{"values":[0,10,20,30,40,50]}},"y":{"field":"y","type":"quantitative","title":"Force [kN]","scale":{"domain":[-4.0,84.6],"nice":false,"zero":false},"axis":{"values":[0,20,40,60,80]}},"color":{"field":"s","type":"nominal","scale":{"domain":["Input","Decoded"],"range":["#1f77b4","#ff7f0e"]},"legend":{"title":null,"labelExpr":"datum.label=='Input'?'I n p u t':'D e c o d e d'"}}}},
{"width":313,"height":205.5,"transform":[{"filter":"datum.p==6"}],"mark":{"type":"line","clip":true},"encoding":{"x":{"field":"x","type":"quantitative","title":"Displacement [mm]","scale":{"domain":[-2.65,53.79],"nice":false,"zero":false},"axis":{"values":[0,10,20,30,40,50]}},"y":{"field":"y","type":"quantitative","title":"Force [kN]","scale":{"domain":[-2.4,50.8],"nice":false,"zero":false},"axis":{"values":[0,10,20,30,40,50]}},"color":{"field":"s","type":"nominal","scale":{"domain":["Input","Decoded"],"range":["#1f77b4","#ff7f0e"]},"legend":{"title":null,"labelExpr":"datum.label=='Input'?'I n p u t':'D e c o d e d'"}}}}
],"spacing":12.5,"resolve":{"scale":{"color":"independent"},"legend":{"color":"independent"}}},
{"hconcat":[
{"width":318.6,"height":205.5,"transform":[{"filter":"datum.p==7"}],"mark":{"type":"line","clip":true},"encoding":{"x":{"field":"x","type":"quantitative","title":"Displacement [mm]","scale":{"domain":[-2.65,54.8],"nice":false,"zero":false},"axis":{"values":[0,10,20,30,40,50]}},"y":{"field":"y","type":"quantitative","title":"Force [kN]","scale":{"domain":[-3.7,78.1],"nice":false,"zero":false},"axis":{"values":[0,20,40,60]}},"color":{"field":"s","type":"nominal","scale":{"domain":["Input","Decoded"],"range":["#1f77b4","#ff7f0e"]},"legend":{"title":null,"labelExpr":"datum.label=='Input'?'I n p u t':'D e c o d e d'"}}}},
{"width":318.6,"height":205.5,"transform":[{"filter":"datum.p==8"}],"mark":{"type":"line","clip":true},"encoding":{"x":{"field":"x","type":"quantitative","title":"Displacement [mm]","scale":{"domain":[-2.65,54.8],"nice":false,"zero":false},"axis":{"values":[0,10,20,30,40,50]}},"y":{"field":"y","type":"quantitative","title":"Force [kN]","scale":{"domain":[-3.8,79.9],"nice":false,"zero":false},"axis":{"values":[0,20,40,60]}},"color":{"field":"s","type":"nominal","scale":{"domain":["Input","Decoded"],"range":["#1f77b4","#ff7f0e"]},"legend":{"title":null,"labelExpr":"datum.label=='Input'?'I n p u t':'D e c o d e d'"}}}},
{"width":313,"height":205.5,"transform":[{"filter":"datum.p==9"}],"mark":{"type":"line","clip":true},"encoding":{"x":{"field":"x","type":"quantitative","title":"Displacement [mm]","scale":{"domain":[-2.65,53.79],"nice":false,"zero":false},"axis":{"values":[0,10,20,30,40,50]}},"y":{"field":"y","type":"quantitative","title":"Force [kN]","scale":{"domain":[-3.3,74.8],"nice":false,"zero":false},"axis":{"values":[0,20,40,60]}},"color":{"field":"s","type":"nominal","scale":{"domain":["Input","Decoded"],"range":["#1f77b4","#ff7f0e"]},"legend":{"title":null,"labelExpr":"datum.label=='Input'?'I n p u t':'D e c o d e d'"}}}}
],"spacing":12.5,"resolve":{"scale":{"color":"independent"},"legend":{"color":"independent"}}}
],"spacing":11,"resolve":{"scale":{"color":"independent"},"legend":{"color":"independent"}}}
],
"config":{
"font":"DejaVu Sans",
"view":{"stroke":"black","strokeWidth":1.1},
"line":{"strokeWidth":2.7},
"axis":{"domain":false,"grid":true,"gridColor":"#b0b0b0","gridDash":[1.5,2.5],"gridWidth":1,"tickColor":"black","tickSize":5,"tickWidth":1.1,"labelFont":"DejaVu Sans","labelFontSize":14.5,"labelColor":"black","labelFlush":false,"labelPadding":3,"titleFont":"DejaVu Sans","titleFontSize":15.5,"titleFontWeight":"normal","titleColor":"black"},
"axisX":{"titlePadding":6,"labelPadding":5},
"axisY":{"titlePadding":8},
"legend":{"orient":"top-left","offset":9,"padding":10,"fillColor":"rgba(255,255,255,0.8)","strokeColor":"#cccccc","cornerRadius":4,"symbolType":"M-12.25,0H12.25","symbolSize":16,"symbolStrokeWidth":3,"symbolOffset":14,"labelOffset":35,"labelFont":"DejaVu Sans","labelFontSize":15,"labelColor":"black","rowPadding":10,"labelLimit":400}
}
}
